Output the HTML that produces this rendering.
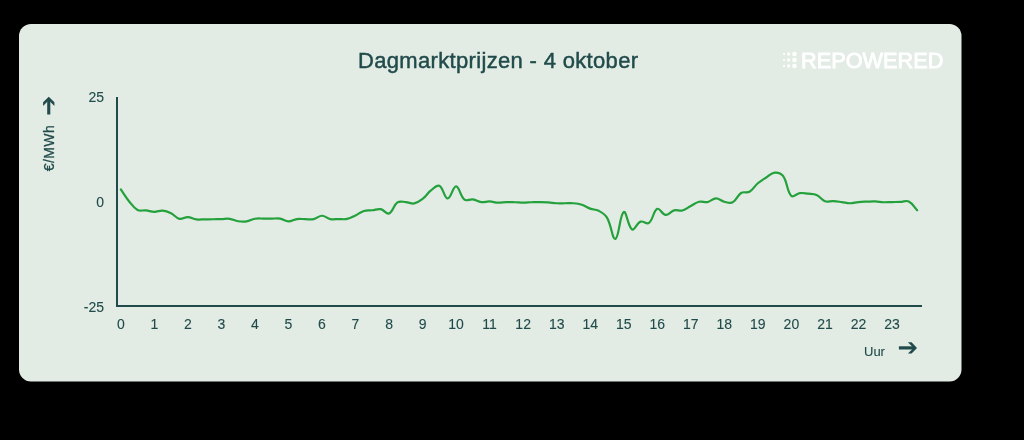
<!DOCTYPE html>
<html><head><meta charset="utf-8">
<style>
html,body{margin:0;padding:0;background:#000;width:1024px;height:440px;overflow:hidden}
body{position:relative;will-change:transform;font-family:"Liberation Sans",sans-serif;color:#214b4b}
.title{position:absolute;left:358px;top:46px;font-size:22px;line-height:30px;white-space:nowrap;letter-spacing:0.33px;-webkit-text-stroke:0.45px #214b4b}
.logo{position:absolute;left:800.5px;top:47px;font-size:23px;line-height:28px;transform:scale(0.944,0.94);transform-origin:0 0;font-weight:normal;-webkit-text-stroke:0.9px #fff;color:#fff;white-space:nowrap}
.yl{position:absolute;right:920px;font-size:14px;line-height:16px;text-align:right;white-space:nowrap}
.xl{position:absolute;top:316px;width:40px;text-align:center;font-size:14px;line-height:16px}
.unit{position:absolute;left:49px;top:148px;-webkit-text-stroke:0.25px #214b4b;font-size:14px;line-height:16px;letter-spacing:0.4px;white-space:nowrap;transform:translate(-50%,-50%) rotate(-90deg)}
.uur{position:absolute;left:864px;top:344px;font-size:13px;line-height:16px}
svg{position:absolute;left:0;top:0}
.yl,.xl,.uur{-webkit-text-stroke:0.1px #214b4b}
</style></head><body>
<svg width="1024" height="440" viewBox="0 0 1024 440">
 <rect x="19" y="24" width="942.5" height="357.6" rx="12" fill="#e2ece4"/>
 <g fill="#fff">
  <circle cx="784" cy="54" r="1.1"/><circle cx="788.6" cy="54" r="1.65"/><circle cx="794.5" cy="54" r="2.3"/>
  <circle cx="784" cy="60" r="1.1"/><circle cx="788.6" cy="60" r="1.65"/><circle cx="794.5" cy="60" r="2.3"/>
  <circle cx="784" cy="66" r="1.1"/><circle cx="788.6" cy="66" r="1.65"/><circle cx="794.5" cy="66" r="2.3"/>
 </g>
 <path d="M117,97V306H922" fill="none" stroke="#214b4b" stroke-width="2"/>
 <g fill="#214b4b"><path d="M48.75,96.7L54.4,102.3V105.9L48.75,100.25L43.1,105.9V102.3Z"/><rect x="47.2" y="99" width="3.1" height="15.5"/></g>
 <g fill="#214b4b"><path d="M917,347.9L911.6,342.3H907.9L913.5,347.9L907.9,353.5H911.6Z"/><rect x="898.9" y="346.3" width="15" height="3.2"/></g>
 <path d="M120.80,189.35C124.15,194.19 125.48,196.90 129.18,201.45C132.19,205.14 133.63,207.84 137.56,209.95C140.33,211.44 142.61,210.07 145.95,210.45C149.32,210.83 150.97,211.83 154.33,211.85C157.68,211.87 159.42,210.28 162.71,210.55C166.13,210.84 167.97,211.70 171.09,213.25C174.67,215.02 175.85,218.03 179.48,218.85C182.56,219.55 184.53,216.95 187.86,217.05C191.24,217.15 192.83,218.88 196.24,219.35C199.53,219.80 201.27,219.37 204.62,219.35C207.98,219.33 209.65,219.31 213.01,219.25C216.36,219.19 218.04,219.13 221.39,219.05C224.74,218.97 226.49,218.42 229.77,218.85C233.19,219.30 234.74,220.72 238.16,221.25C241.44,221.76 243.27,221.94 246.54,221.45C249.97,220.94 251.48,219.34 254.92,218.75C258.19,218.18 259.95,218.57 263.30,218.55C266.66,218.53 268.33,218.63 271.69,218.65C275.04,218.67 276.80,218.10 280.07,218.65C283.51,219.22 285.07,221.37 288.45,221.45C291.78,221.53 293.41,219.52 296.83,219.05C300.12,218.60 301.86,219.13 305.22,219.15C308.57,219.17 310.37,219.80 313.60,219.15C317.08,218.44 318.62,215.77 321.98,215.75C325.33,215.73 326.89,218.37 330.36,219.05C333.59,219.69 335.39,219.07 338.75,219.05C342.10,219.03 343.91,219.64 347.13,218.95C350.62,218.20 352.23,217.01 355.51,215.45C358.94,213.81 360.33,212.05 363.89,210.95C367.04,209.97 368.93,210.61 372.28,210.25C375.64,209.89 377.49,208.54 380.66,209.15C384.19,209.82 386.32,214.54 389.04,213.45C393.03,211.86 393.25,205.29 397.42,202.45C399.95,200.73 402.47,201.85 405.81,202.05C409.18,202.25 411.02,204.04 414.19,203.45C417.73,202.80 419.60,201.26 422.57,198.95C426.30,196.06 427.23,193.36 430.95,190.45C433.93,188.12 436.74,184.61 439.34,185.85C443.44,187.81 444.31,198.33 447.72,198.45C451.01,198.57 452.86,186.22 456.10,186.45C459.56,186.70 460.12,196.29 464.48,199.65C466.82,201.45 469.59,198.88 472.87,199.35C476.30,199.84 477.82,201.62 481.25,202.05C484.52,202.46 486.29,201.33 489.63,201.45C493.00,201.57 494.65,202.51 498.01,202.65C501.35,202.79 503.04,202.23 506.40,202.15C509.75,202.07 511.43,202.15 514.78,202.25C518.13,202.35 519.81,202.65 523.16,202.65C526.51,202.65 528.19,202.37 531.54,202.25C534.89,202.13 536.57,202.01 539.92,202.05C543.28,202.09 544.96,202.21 548.31,202.45C551.67,202.69 553.33,203.09 556.69,203.25C560.04,203.41 561.72,203.25 565.07,203.25C568.43,203.25 570.13,202.95 573.46,203.25C576.83,203.55 578.62,203.71 581.84,204.75C585.33,205.87 586.75,207.41 590.22,208.65C593.46,209.81 595.63,209.15 598.60,210.75C602.34,212.75 604.83,214.02 606.99,217.65C611.53,225.30 612.37,239.97 615.37,238.95C619.07,237.69 619.77,214.20 623.75,211.95C626.48,210.40 627.92,227.01 632.13,229.45C634.62,230.89 636.66,223.14 640.51,221.65C643.37,220.54 646.61,224.70 648.90,222.95C653.32,219.58 653.17,210.81 657.28,208.85C659.88,207.61 662.17,214.64 665.66,214.95C668.88,215.24 670.47,211.31 674.04,210.35C677.18,209.51 679.29,211.27 682.43,210.45C685.99,209.51 687.43,207.70 690.81,205.95C694.14,204.22 695.65,202.57 699.19,201.75C702.36,201.01 704.36,202.68 707.57,202.05C711.07,201.36 712.58,198.51 715.96,198.45C719.29,198.39 720.87,200.96 724.34,201.75C727.58,202.48 730.03,203.66 732.72,202.25C736.74,200.14 737.10,195.46 741.11,192.95C743.81,191.26 746.70,193.36 749.49,191.75C753.41,189.48 754.25,186.34 757.87,183.25C760.96,180.62 762.81,179.63 766.25,177.45C769.52,175.39 771.17,172.96 774.63,172.65C777.87,172.36 781.05,173.21 783.02,175.95C787.76,182.53 786.64,191.06 791.40,195.95C793.34,197.94 796.34,193.62 799.78,193.15C803.05,192.70 804.83,193.29 808.16,193.65C811.53,194.01 813.55,193.59 816.55,194.95C820.25,196.63 821.20,199.87 824.93,201.25C827.91,202.35 829.97,200.99 833.31,201.15C836.67,201.31 838.35,201.63 841.69,202.05C845.06,202.47 846.72,203.25 850.08,203.25C853.43,203.25 855.09,202.37 858.46,202.05C861.80,201.73 863.49,201.77 866.84,201.65C870.19,201.53 871.88,201.33 875.23,201.45C878.59,201.57 880.25,202.13 883.61,202.25C886.95,202.37 888.64,202.11 891.99,202.05C895.34,201.99 897.02,202.07 900.37,201.95C903.73,201.83 906.01,200.09 908.75,201.45C912.72,203.41 913.78,206.73 917.14,210.25" fill="none" stroke="#24a13c" stroke-width="2.2" stroke-linejoin="round" stroke-linecap="round"/>
</svg>
<div class="title">Dagmarktprijzen - 4 oktober</div>
<div class="logo">REPOWERED</div>
<div class="yl" style="top:89px">25</div>
<div class="yl" style="top:194px">0</div>
<div class="yl" style="top:299px">-25</div>
<div class="xl" style="left:100.80px">0</div><div class="xl" style="left:134.33px">1</div><div class="xl" style="left:167.86px">2</div><div class="xl" style="left:201.39px">3</div><div class="xl" style="left:234.92px">4</div><div class="xl" style="left:268.45px">5</div><div class="xl" style="left:301.98px">6</div><div class="xl" style="left:335.51px">7</div><div class="xl" style="left:369.04px">8</div><div class="xl" style="left:402.57px">9</div><div class="xl" style="left:436.10px">10</div><div class="xl" style="left:469.63px">11</div><div class="xl" style="left:503.16px">12</div><div class="xl" style="left:536.69px">13</div><div class="xl" style="left:570.22px">14</div><div class="xl" style="left:603.75px">15</div><div class="xl" style="left:637.28px">16</div><div class="xl" style="left:670.81px">17</div><div class="xl" style="left:704.34px">18</div><div class="xl" style="left:737.87px">19</div><div class="xl" style="left:771.40px">20</div><div class="xl" style="left:804.93px">21</div><div class="xl" style="left:838.46px">22</div><div class="xl" style="left:871.99px">23</div>
<div class="unit">€/MWh</div>
<div class="uur">Uur</div>
</body></html>
